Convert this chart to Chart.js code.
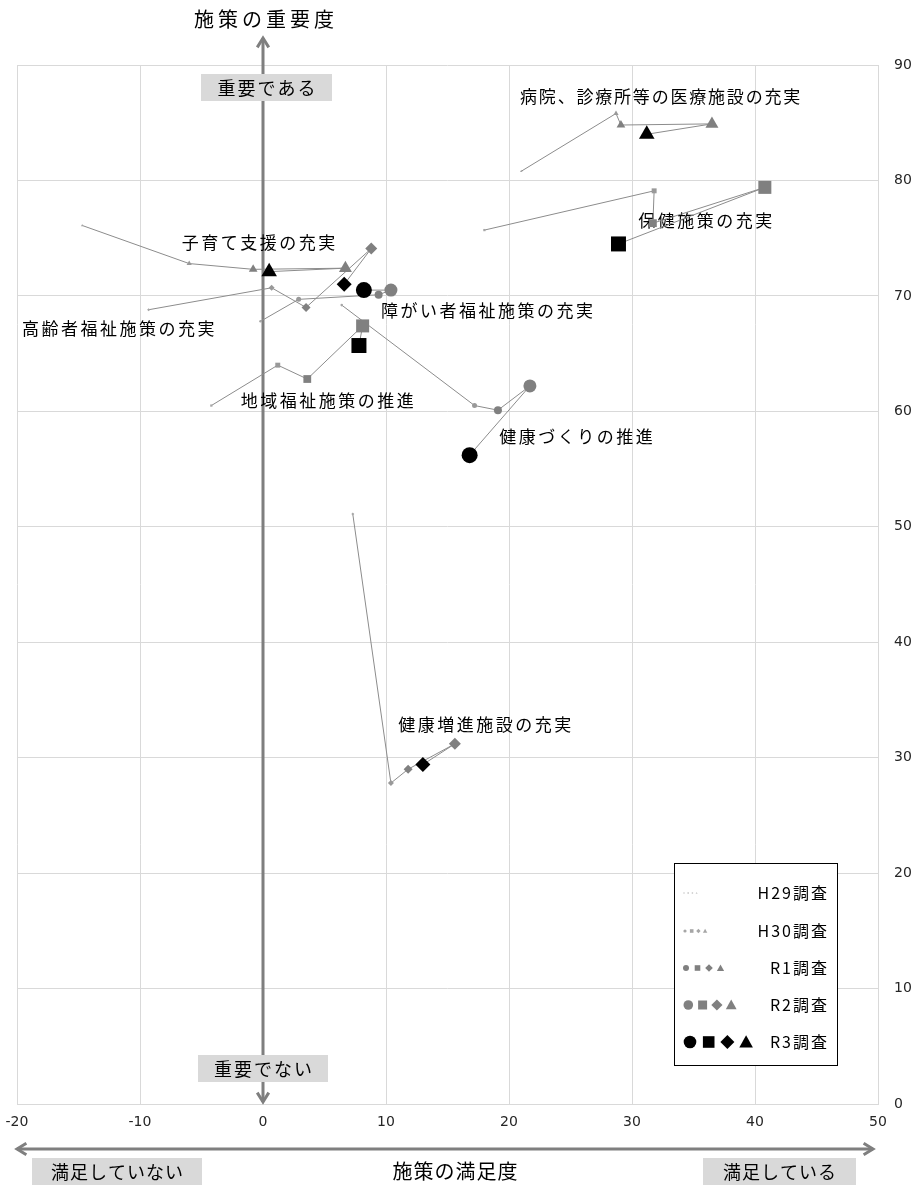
<!DOCTYPE html>
<html lang="ja">
<head>
<meta charset="UTF-8">
<title>施策の重要度・満足度</title>
<script src="https://cdn.jsdelivr.net/npm/chart.js"></script>
<style>
  body { margin: 0; background: #fff; }
  #wrap { width: 918px; height: 1186px; }
</style>
</head>
<body>
<div id="wrap"><canvas id="matrix" width="918" height="1186"></canvas></div>
<script>
// survey rounds, oldest first
const surveys = ['H29調査', 'H30調査', 'R1調査', 'R2調査', 'R3調査'];

const policies = [
  '病院、診療所等の医療施設の充実',
  '保健施策の充実',
  '子育て支援の充実',
  '高齢者福祉施策の充実',
  '障がい者福祉施策の充実',
  '地域福祉施策の推進',
  '健康づくりの推進',
  '健康増進施設の充実'
];

// 満足度 (x), one row per policy, H29..R3
const satisfaction = [
  [21.0, 28.7, 29.1, 36.5, 31.2],
  [18.0, 31.8, 31.7, 40.8, 28.9],
  [-14.7, -6.0, -0.8, 6.7, 0.5],
  [-9.3, 0.7, 3.5, 8.8, 6.6],
  [-0.2, 2.9, 9.4, 10.4, 8.2],
  [-4.2, 1.2, 3.6, 8.1, 7.8],
  [6.4, 17.2, 19.1, 21.7, 16.8],
  [7.3, 10.4, 11.8, 15.6, 13.0]
];

// 重要度 (y)
const importance = [
  [80.8, 85.8, 84.8, 84.9, 84.0],
  [75.7, 79.1, 76.3, 79.4, 74.5],
  [76.1, 72.8, 72.3, 72.4, 72.1],
  [68.8, 70.7, 69.0, 74.1, 71.0],
  [67.8, 69.7, 70.1, 70.5, 70.5],
  [60.5, 64.0, 62.8, 67.4, 65.7],
  [69.2, 60.5, 60.1, 62.2, 56.2],
  [51.1, 27.8, 29.0, 31.2, 29.4]
];

const xTicks = [-20, -10, 0, 10, 20, 30, 40, 50];
const yTicks = [0, 10, 20, 30, 40, 50, 60, 70, 80, 90];

// ---- styling ----
const JP = "'Noto Sans CJK JP', sans-serif";
Chart.defaults.font.family = JP;

const shapes = ['triangle', 'rect', 'triangle', 'rectRot', 'circle', 'rect', 'circle', 'rectRot'];
const markerColors = ['#a6a6a6', '#999999', '#808080', '#808080', '#000000'];
const markerSize = {
  circle:   [1.3, 2.5, 4, 6.5, 8],
  rect:     [1.6, 3.5, 5.5, 9.2, 10.6],
  rectRot:  [1.5, 3, 4.5, 6, 7.5],
  triangle: [1.5, 3, 5, 7.5, 9]
};
// where each policy name sits (left edge / middle, in axis units)
const labelAnchors = [
  [20.9, 87.3], [30.5, 76.5], [-6.6, 74.6], [-19.6, 67.2],
  [9.6, 68.7], [-1.8, 60.9], [19.2, 57.8], [11.0, 32.9]
];

const datasets = policies.map((name, i) => ({
  label: name,
  data: satisfaction[i].map((x, k) => ({ x: x, y: importance[i][k] })),
  showLine: true,
  borderColor: '#8c8c8c',
  borderWidth: 1,
  pointStyle: shapes[i],
  pointRadius: markerSize[shapes[i]],
  pointBackgroundColor: markerColors,
  pointBorderWidth: 0
}));

function drawArrow(ctx, x1, y1, x2, y2) {
  ctx.save();
  ctx.strokeStyle = '#7f7f7f';
  ctx.lineWidth = 3;
  ctx.beginPath();
  ctx.moveTo(x1, y1);
  ctx.lineTo(x2, y2);
  ctx.stroke();
  const a = Math.atan2(y2 - y1, x2 - x1);
  [[x2, y2, a], [x1, y1, a + Math.PI]].forEach(([x, y, t]) => {
    ctx.beginPath();
    ctx.moveTo(x - 11 * Math.cos(t - 0.55), y - 11 * Math.sin(t - 0.55));
    ctx.lineTo(x, y);
    ctx.lineTo(x - 11 * Math.cos(t + 0.55), y - 11 * Math.sin(t + 0.55));
    ctx.stroke();
  });
  ctx.restore();
}

function spacedText(ctx, text, x, y, size, spacing, align) {
  ctx.save();
  ctx.font = size + 'px ' + JP;
  ctx.letterSpacing = spacing + 'px';
  ctx.textAlign = align;
  ctx.textBaseline = 'middle';
  ctx.fillStyle = '#000';
  let dx = 0;
  if (align === 'center') dx = spacing / 2;
  if (align === 'right') dx = spacing;
  ctx.fillText(text, x + dx, y);
  ctx.restore();
}

function greyBox(ctx, text, x1, y1, x2, y2, size, spacing) {
  ctx.fillStyle = '#d9d9d9';
  ctx.fillRect(x1, y1, x2 - x1, y2 - y1);
  spacedText(ctx, text, (x1 + x2) / 2, (y1 + y2) / 2 + 1, size, spacing, 'center');
}

function marker(ctx, shape, x, y, r, color) {
  ctx.fillStyle = color;
  ctx.beginPath();
  if (shape === 'circle') {
    ctx.arc(x, y, r, 0, Math.PI * 2);
  } else if (shape === 'rect') {
    ctx.rect(x - r, y - r, 2 * r, 2 * r);
  } else if (shape === 'rectRot') {
    ctx.moveTo(x, y - r); ctx.lineTo(x + r, y); ctx.lineTo(x, y + r); ctx.lineTo(x - r, y);
  } else {
    ctx.moveTo(x, y - r); ctx.lineTo(x + r, y + r * 0.8); ctx.lineTo(x - r, y + r * 0.8);
  }
  ctx.closePath();
  ctx.fill();
}

const decorations = {
  id: 'decorations',
  beforeDatasetsDraw(chart) {
    const { ctx, chartArea, scales } = chart;
    const x0 = scales.x.getPixelForValue(0);
    // vertical importance axis
    drawArrow(ctx, x0, 1102, x0, 38);
    greyBox(ctx, '重要である', x0 - 62, 74, x0 + 69, 101, 18, 2);
    greyBox(ctx, '重要でない', x0 - 65, 1055, x0 + 65, 1082, 18, 2);
    // policy names
    policies.forEach((name, i) => {
      const px = scales.x.getPixelForValue(labelAnchors[i][0]);
      const py = scales.y.getPixelForValue(labelAnchors[i][1]);
      spacedText(ctx, name, px, py, 17, i === 0 ? 1.8 : 2.5, 'left');
    });
  },
  afterDraw(chart) {
    const { ctx, chartArea } = chart;
    // titles
    spacedText(ctx, '施策の重要度', 264, 19, 20, 4, 'center');
    drawArrow(ctx, chartArea.left, 1149, chartArea.right - 5, 1149);
    greyBox(ctx, '満足していない', 32, 1158, 202, 1185, 18, 1);
    greyBox(ctx, '満足している', 703, 1158, 856, 1185, 18, 1);
    spacedText(ctx, '施策の満足度', 455, 1171, 20, 1, 'center');

    // legend box
    const lx = 674, ly = 863, lw = 163, lh = 202;
    ctx.save();
    ctx.fillStyle = '#fff';
    ctx.fillRect(lx, ly, lw, lh);
    ctx.strokeStyle = '#000';
    ctx.lineWidth = 1;
    ctx.strokeRect(lx + 0.5, ly + 0.5, lw, lh);
    const rowY = [893, 931, 968, 1005, 1042];
    const gap = [4.2, 6.7, 11.5, 14.3, 18.7];
    const start = [684, 685, 686, 688.3, 690];
    const rad = {
      circle:   [0.8, 1.6, 3, 4.8, 6.3],
      rect:     [0.8, 1.8, 2.8, 4.5, 5.8],
      rectRot:  [1, 2.2, 3.8, 5.6, 7],
      triangle: [1, 2.2, 3.6, 5.4, 6.8]
    };
    const legendColors = ['#c8c8c8', '#a6a6a6', '#808080', '#808080', '#000000'];
    surveys.forEach((s, k) => {
      ['circle', 'rect', 'rectRot', 'triangle'].forEach((sh, j) => {
        marker(ctx, sh, start[k] + gap[k] * j, rowY[k], rad[sh][k], legendColors[k]);
      });
      spacedText(ctx, s, 827, rowY[k], 16, 2, 'right');
    });
    ctx.restore();
  }
};

new Chart(document.getElementById('matrix'), {
  type: 'scatter',
  data: { datasets: datasets },
  options: {
    responsive: false,
    animation: false,
    layout: { padding: { top: 65, left: 17, right: 0, bottom: 55 } },
    plugins: { legend: { display: false }, tooltip: { enabled: false } },
    scales: {
      x: {
        type: 'linear',
        min: -20,
        max: 50,
        afterBuildTicks: axis => { axis.ticks = xTicks.map(v => ({ value: v })); },
        afterFit: axis => { axis.height = 27; axis.paddingLeft = 0; axis.paddingRight = 0; },
        grid: { color: '#d9d9d9', drawTicks: false },
        border: { color: '#d9d9d9' },
        ticks: { padding: 10, color: '#262626', font: { family: 'DejaVu Sans', size: 14 } }
      },
      y: {
        type: 'linear',
        position: 'right',
        min: 0,
        max: 90,
        afterBuildTicks: axis => { axis.ticks = yTicks.map(v => ({ value: v })); },
        afterFit: axis => { axis.width = 40; },
        grid: { color: '#d9d9d9', drawTicks: false },
        border: { color: '#d9d9d9' },
        ticks: { padding: 16, color: '#262626', font: { family: 'DejaVu Sans', size: 14 } }
      }
    }
  },
  plugins: [decorations]
});
</script>
</body>
</html>
